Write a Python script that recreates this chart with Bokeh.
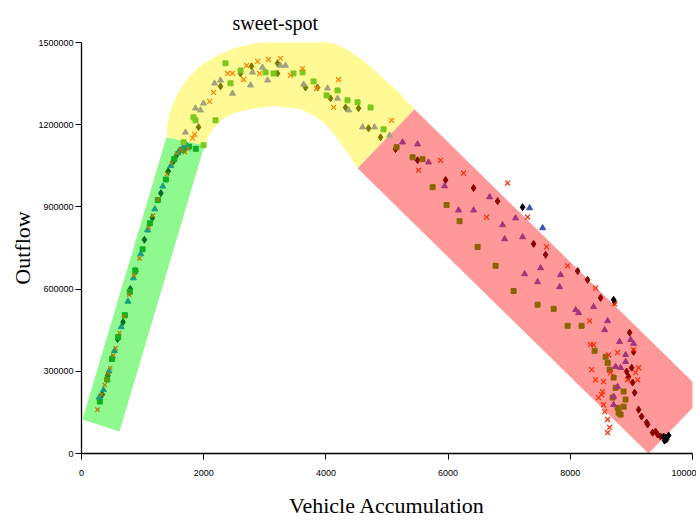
from bokeh.plotting import figure
from bokeh.models import Range1d, FixedTicker, BasicTickFormatter
from bokeh.embed import file_html
from bokeh.resources import INLINE

# ---- axes ----
x_ticks = [0, 2000, 4000, 6000, 8000, 10000]
y_ticks = [0, 300000, 600000, 900000, 1200000, 1500000]

# ---- regime bands (data coordinates) ----
green_band_x = [16, 622, 2014, 1391]
green_band_y = [124000, 80000, 1125000, 1154000]

yellow_outer_x = [1391, 1408, 1457, 1572, 1735, 1948, 2226, 2488, 2816, 3143, 3470, 3798, 4125, 4322, 4567, 4895, 5173, 5451]
yellow_outer_y = [1154000, 1205000, 1253000, 1314000, 1369000, 1416000, 1453000, 1478000, 1496000, 1507000, 1511000, 1511000, 1496000, 1478000, 1442000, 1380000, 1322000, 1256000]
yellow_inner_x = [4518, 4404, 4240, 4125, 3962, 3798, 3585, 3372, 3143, 2930, 2685, 2488, 2308, 2161, 2079, 2014]
yellow_inner_y = [1041000, 1081000, 1132000, 1169000, 1209000, 1234000, 1256000, 1263000, 1267000, 1263000, 1253000, 1242000, 1220000, 1187000, 1158000, 1125000]

red_band_x = [4518, 5451, 10213, 9280]
red_band_y = [1041000, 1256000, 215000, 0]

# ---- uncongested (green) regime ----
g_dia_x = [340, 430, 510, 590, 680, 800, 890, 1030, 1160, 1300, 1420, 1500, 1560, 1610, 1700]
g_dia_y = [215000, 285000, 350000, 418000, 480000, 600000, 665000, 780000, 860000, 950000, 1030000, 1065000, 1090000, 1105000, 1112000]
g_sq_x = [300, 420, 500, 600, 710, 790, 880, 1000, 1120, 1250, 1380, 1520, 1640, 1760, 1870]
g_sq_y = [190000, 270000, 345000, 425000, 505000, 590000, 668000, 745000, 840000, 925000, 1000000, 1075000, 1108000, 1120000, 1112000]
g_tri_x = [290, 360, 450, 540, 650, 760, 850, 970, 1080, 1200, 1330, 1460, 1580, 1660, 1720]
g_tri_y = [205000, 232000, 300000, 375000, 462000, 555000, 640000, 728000, 815000, 892000, 975000, 1050000, 1098000, 1115000, 1125000]
g_x_x = [262, 330, 380, 410, 440, 470, 520, 560, 620, 700, 780, 860, 950, 1100, 1170, 1250, 1400, 1480, 1560, 1620, 1690, 1740]
g_x_y = [160000, 215000, 250000, 270000, 290000, 312000, 358000, 385000, 440000, 500000, 580000, 650000, 712000, 825000, 868000, 928000, 1020000, 1060000, 1095000, 1108000, 1100000, 1112000]

# ---- sweet-spot (yellow) regime ----
y_dia_x = [1915, 2275, 2603, 2783, 3209, 3209, 3667, 3863, 4076, 4322, 4534, 4698, 4895]
y_dia_y = [1191000, 1340000, 1387000, 1413000, 1424000, 1387000, 1336000, 1336000, 1296000, 1263000, 1260000, 1187000, 1154000]
y_sq_x = [1670, 1833, 1866, 1997, 2194, 2357, 2439, 2603, 3012, 3143, 3470, 3618, 3798, 4011, 4191, 4354, 4518, 4731, 4944]
y_sq_y = [1136000, 1227000, 1216000, 1125000, 1216000, 1424000, 1351000, 1398000, 1391000, 1387000, 1387000, 1391000, 1358000, 1307000, 1325000, 1289000, 1282000, 1263000, 1183000]
y_tri_x = [1702, 1866, 1948, 1997, 2177, 2275, 2472, 2767, 2799, 2963, 3045, 3258, 3339, 3634, 4027, 4191, 4371, 4600, 4796, 5042]
y_tri_y = [1172000, 1260000, 1253000, 1278000, 1351000, 1362000, 1314000, 1344000, 1391000, 1409000, 1362000, 1416000, 1416000, 1347000, 1333000, 1296000, 1253000, 1191000, 1191000, 1161000]
y_x_x = [1817, 1850, 2095, 2161, 2390, 2472, 2652, 2701, 2881, 2914, 3061, 3258, 3421, 3618, 3847, 4125, 4207, 5075]
y_x_y = [1151000, 1165000, 1285000, 1318000, 1387000, 1387000, 1365000, 1416000, 1431000, 1387000, 1438000, 1442000, 1380000, 1405000, 1333000, 1263000, 1365000, 1216000]

# ---- congested (red) regime ----
r_dia_x = [5140, 5500, 5959, 6417, 6810, 7399, 7596, 8120, 8283, 8496, 8725, 8971, 9036, 8922, 9004, 8954, 9020, 9053, 9118, 9167, 9249, 9265, 9347, 9396, 9429, 9478]
r_dia_y = [1111000, 1070000, 998000, 969000, 921000, 765000, 725000, 666000, 634000, 568000, 553000, 441000, 371000, 299000, 313000, 280000, 259000, 222000, 160000, 135000, 113000, 106000, 76000, 80000, 69000, 62000]
r_sq_x = [5157, 5419, 5582, 5746, 5975, 6188, 6483, 6777, 7072, 7465, 7727, 7956, 8185, 8398, 8578, 8611, 8644, 8709, 8742, 8692, 8774, 8823, 8873, 8905, 8873, 8791]
r_sq_y = [1118000, 1081000, 1074000, 972000, 907000, 848000, 754000, 685000, 593000, 543000, 528000, 466000, 466000, 375000, 353000, 331000, 306000, 277000, 240000, 204000, 167000, 142000, 226000, 197000, 171000, 149000]
r_tri_x = [5255, 5500, 5680, 5942, 6171, 6417, 6679, 6892, 6925, 7105, 7219, 7252, 7465, 7514, 7825, 7841, 8087, 8136, 8381, 8611, 8562, 8807, 8905, 8987, 9036, 8823, 8742, 8774, 8709, 8709, 8905]
r_tri_y = [1136000, 1129000, 1063000, 976000, 888000, 888000, 936000, 834000, 783000, 859000, 790000, 655000, 626000, 677000, 608000, 652000, 524000, 513000, 535000, 484000, 451000, 408000, 360000, 415000, 401000, 313000, 317000, 244000, 208000, 178000, 335000]
r_x_x = [5517, 5877, 6253, 6630, 6974, 7301, 7612, 7956, 8414, 8725, 8316, 8381, 8332, 8349, 8414, 8545, 8627, 8774, 8660, 8529, 8463, 8512, 8545, 8562, 8611, 8644, 8611, 9118, 9069, 8938, 9102, 9036]
r_x_y = [1034000, 1070000, 1023000, 863000, 987000, 863000, 754000, 685000, 604000, 546000, 484000, 397000, 397000, 306000, 269000, 262000, 360000, 368000, 295000, 226000, 204000, 215000, 178000, 153000, 124000, 95000, 76000, 313000, 295000, 269000, 269000, 379000]

# ---- extra series ----
k_dia_x = [7219, 8709, 9527, 9560, 9576, 9609, 9543]
k_dia_y = [899000, 561000, 62000, 58000, 51000, 66000, 47000]
b_tri_x = [7334, 7547]
b_tri_y = [896000, 823000]

serif = "Liberation Serif"
narrow = "'Liberation Sans Narrow', 'Arial Narrow', 'Liberation Sans', sans-serif"

p = figure(width=696, height=520, output_backend="svg", toolbar_location=None,
           x_range=Range1d(0, 10000), y_range=Range1d(0, 1500000),
           min_border_left=81, min_border_right=4, min_border_top=42, min_border_bottom=66,
           title="sweet-spot")
p.title.align = "left"
p.title.offset = 151
p.title.standoff = 18
p.title.text_font = serif
p.title.text_font_size = "20px"
p.title.text_line_height = 0.9
p.title.text_font_style = "normal"
p.title.text_color = "#000000"
p.outline_line_color = None
p.grid.visible = False
p.background_fill_color = "white"

# bands
p.patch(green_band_x, green_band_y, fill_color="#8FF98F", line_color=None)
p.patch(yellow_outer_x + yellow_inner_x, yellow_outer_y + yellow_inner_y, fill_color="#FFFA96", line_color=None)
p.patch(red_band_x, red_band_y, fill_color="#FF9999", line_color=None)

def pts(xs, ys, marker, color, size):
    if marker == "x":
        p.scatter(xs, ys, marker="x", size=size, line_color=color, line_width=1.2)
    else:
        p.scatter(xs, ys, marker=marker, size=size, fill_color=color, line_color=color)

pts(g_dia_x, g_dia_y, "diamond", "#006E1E", 7)
pts(g_sq_x, g_sq_y, "square", "#10B020", 5)
pts(g_tri_x, g_tri_y, "triangle", "#1A9C84", 6)
pts(g_x_x, g_x_y, "x", "#A88400", 6)

pts(y_dia_x, y_dia_y, "diamond", "#7A7A00", 7)
pts(y_sq_x, y_sq_y, "square", "#78C81E", 5)
pts(y_tri_x, y_tri_y, "triangle", "#A2A27E", 6)
pts(y_x_x, y_x_y, "x", "#FF8000", 7)

pts(r_dia_x, r_dia_y, "diamond", "#8B0000", 7)
pts(r_sq_x, r_sq_y, "square", "#8C6400", 5)
pts(r_tri_x, r_tri_y, "triangle", "#A3357E", 6)
pts(r_x_x, r_x_y, "x", "#FF2A00", 7)

pts(k_dia_x, k_dia_y, "diamond", "#000000", 7)
pts(b_tri_x, b_tri_y, "triangle", "#3C50B4", 6)

# axes
for ax in (p.xaxis[0], p.yaxis[0]):
    ax.formatter = BasicTickFormatter(use_scientific=False)
    ax.minor_tick_line_color = None
    ax.major_tick_in = 0
    ax.major_tick_out = 6
    ax.axis_line_color = "#000000"
    ax.axis_line_width = 1.3
    ax.major_tick_line_color = "#000000"
    ax.major_label_text_font = narrow
    ax.major_label_text_font_size = "9px"
    ax.major_label_text_color = "#000000"
    ax.axis_label_text_font = serif
    ax.axis_label_text_font_size = "22px"
    ax.axis_label_text_font_style = "normal"
    ax.axis_label_text_color = "#000000"

p.xaxis.ticker = FixedTicker(ticks=x_ticks)
p.yaxis.ticker = FixedTicker(ticks=y_ticks)
p.xaxis.axis_label = "Vehicle Accumulation"
p.yaxis.axis_label = "Outflow"
p.xaxis.major_label_standoff = 10
p.xaxis.axis_label_standoff = 14
p.yaxis.major_label_standoff = 2
p.yaxis.axis_label_standoff = 0

open("out.html", "w").write(file_html(p, INLINE))
